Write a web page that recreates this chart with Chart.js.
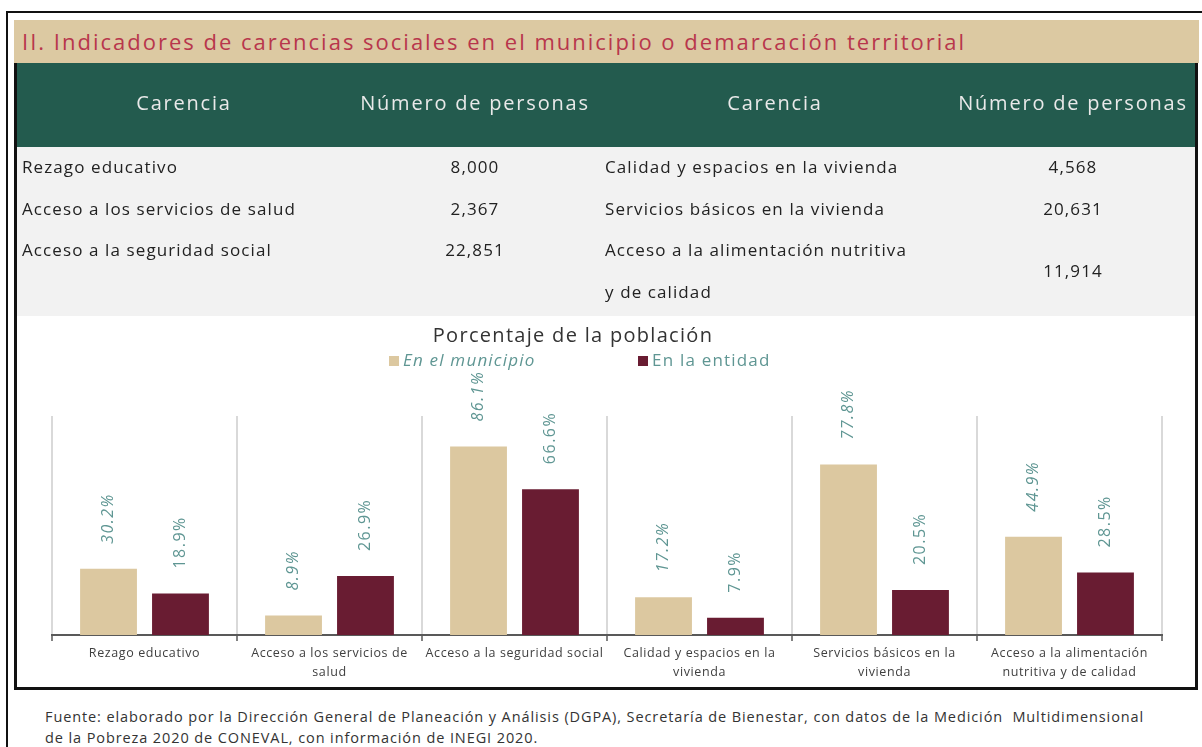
<!DOCTYPE html>
<html lang="es">
<head>
<meta charset="utf-8">
<title>Indicadores de carencias sociales</title>
<script src="https://cdn.jsdelivr.net/npm/chart.js@4.4.1/dist/chart.umd.min.js"></script>
<style>
  html, body { margin: 0; padding: 0; background: #fff; }
  body { width: 1202px; height: 747px; position: relative; overflow: hidden; font-family: "Open Sans", sans-serif; }
  .abs { position: absolute; white-space: nowrap; }
  #outer { left: 6px; top: 11px; width: 1200px; height: 740px; border-top: 2px solid #111; border-left: 2px solid #111; }
  #titlebar { left: 14px; top: 20px; width: 1185px; height: 43px; background: #dcc9a2; }
  #titlebar span { position: absolute; left: 8px; top: 0; line-height: 43px; font-size: 22px; letter-spacing: 2px; color: #b8364c; }
  #frame { left: 14px; top: 63px; width: 1178px; height: 624px; border-left: 3px solid #111; border-right: 3px solid #111; border-bottom: 3px solid #111; }
  #head { left: 17px; top: 63px; width: 1178px; height: 84px; background: #235b4e; }
  #body { left: 17px; top: 147px; width: 1178px; height: 169px; background: #f2f2f2; }
  .th { height: 84px; line-height: 80px; top: 63px; font-size: 20px; letter-spacing: 1.8px; color: #e9e9e9; text-align: center; }
  .td { font-size: 17px; letter-spacing: 1.1px; color: #222; height: 24px; line-height: 24px; }
  .num { text-align: center; width: 200px; }
  #chartbox { left: 17px; top: 316px; width: 1178px; height: 371px; }
  #ctitle { left: 17px; top: 321px; width: 1112px; text-align: center; font-size: 20px; letter-spacing: 1.3px; color: #333; line-height: 28px; }
  .leg { top: 349px; font-size: 17px; letter-spacing: 1.2px; color: #5f9693; line-height: 22px; }
  .leg i.box { display: inline-block; width: 10px; height: 10px; margin-right: 4px; vertical-align: 0px; }
  #foot { left: 45px; top: 706px; font-size: 14.5px; letter-spacing: 0.9px; color: #333; line-height: 21px; }
</style>
</head>
<body>
<div id="outer" class="abs"></div>
<div id="titlebar" class="abs"><span>II. Indicadores de carencias sociales en el municipio o demarcación territorial</span></div>
<div id="head" class="abs"></div>
<div id="body" class="abs"></div>
<div id="chartbox" class="abs"><canvas id="barChart" width="1178" height="371"></canvas></div>
<div id="frame" class="abs"></div>

<div class="abs th" style="left:17px;width:334px;">Carencia</div>
<div class="abs th" style="left:351px;width:248px;">Número de personas</div>
<div class="abs th" style="left:599px;width:352px;">Carencia</div>
<div class="abs th" style="left:951px;width:244px;">Número de personas</div>

<div id="rows"></div>

<div id="ctitle" class="abs">Porcentaje de la población</div>
<div class="abs leg" style="left:389px;"><i class="box" style="background:#dcc8a0"></i><em>En el municipio</em></div>
<div class="abs leg" style="left:638px;"><i class="box" style="background:#691c32"></i>En la entidad</div>

<div id="foot" class="abs">Fuente: elaborado por la Dirección General de Planeación y Análisis (DGPA), Secretaría de Bienestar, con datos de la Medición&nbsp; Multidimensional<br>de la Pobreza 2020 de CONEVAL, con información de INEGI 2020.</div>

<script>
// table of people per carencia
const leftRows = ['Rezago educativo', 'Acceso a los servicios de salud', 'Acceso a la seguridad social'];
const leftCounts = ['8,000', '2,367', '22,851'];
const rightRows = ['Calidad y espacios en la vivienda', 'Servicios básicos en la vivienda', 'Acceso a la alimentación nutritiva', 'y de calidad'];
const rightCounts = ['4,568', '20,631', '11,914'];

// chart data (percent of population)
const categories = [
  'Rezago educativo',
  ['Acceso a los servicios de', 'salud'],
  'Acceso a la seguridad social',
  ['Calidad y espacios en la', 'vivienda'],
  ['Servicios básicos en la', 'vivienda'],
  ['Acceso a la alimentación', 'nutritiva y de calidad']
];
const municipio = [30.2, 8.9, 86.1, 17.2, 77.8, 44.9];
const entidad = [18.9, 26.9, 66.6, 7.9, 20.5, 28.5];

const rowY = [167, 209, 250, 292];
const rows = document.getElementById('rows');
const cell = (text, left, cy, cls) => {
  const d = document.createElement('div');
  d.className = 'abs td' + (cls ? ' ' + cls : '');
  d.style.left = left + 'px';
  d.style.top = (cy - 12) + 'px';
  d.textContent = text;
  rows.appendChild(d);
};
leftRows.forEach((t, i) => cell(t, 22, rowY[i]));
leftCounts.forEach((t, i) => cell(t, 375, rowY[i], 'num'));
rightRows.forEach((t, i) => cell(t, 605, rowY[i]));
cell(rightCounts[0], 973, rowY[0], 'num');
cell(rightCounts[1], 973, rowY[1], 'num');
cell(rightCounts[2], 973, (rowY[2] + rowY[3]) / 2, 'num');

const labelColor = '#5f9693';

// a bit of tracking on the axis labels, like the original
const spacing = {
  id: 'spacing',
  beforeInit(chart) { chart.ctx.letterSpacing = '0.6px'; },
  beforeDraw(chart) { chart.ctx.letterSpacing = '0.6px'; }
};

const valueLabels = {
  id: 'valueLabels',
  afterDatasetsDraw(chart) {
    const ctx = chart.ctx;
    chart.data.datasets.forEach((ds, i) => {
      chart.getDatasetMeta(i).data.forEach((bar, j) => {
        ctx.save();
        ctx.translate(bar.x, bar.y - 25);
        ctx.rotate(-Math.PI / 2);
        ctx.font = (i === 0 ? 'italic ' : '') + '16px "Open Sans"';
        ctx.letterSpacing = '1.5px';
        ctx.fillStyle = labelColor;
        ctx.textAlign = 'left';
        ctx.textBaseline = 'middle';
        ctx.fillText(ds.data[j].toFixed(1) + '%', 0, 0);
        ctx.restore();
      });
    });
  }
};

new Chart(document.getElementById('barChart'), {
  type: 'bar',
  data: {
    labels: categories,
    datasets: [
      { label: 'En el municipio', data: municipio, backgroundColor: '#dcc8a0' },
      { label: 'En la entidad', data: entidad, backgroundColor: '#691c32' }
    ]
  },
  options: {
    responsive: false,
    animation: false,
    categoryPercentage: 0.778,
    barPercentage: 0.79,
    layout: { padding: { top: 100, left: 35, right: 33, bottom: 0 } },
    plugins: { legend: { display: false }, tooltip: { enabled: false } },
    scales: {
      y: { display: false, min: 0, max: 100 },
      x: {
        afterFit(scale) { scale.height = 52; },
        grid: { offset: true, color: '#d9d9d9', lineWidth: 2, tickColor: '#595959', tickWidth: 1.5, tickLength: 6 },
        border: { color: '#595959', width: 2 },
        ticks: { color: '#404040', padding: 3, maxRotation: 0, autoSkip: false, font: { family: 'Open Sans', size: 12.5, lineHeight: 1.5 } }
      }
    }
  },
  plugins: [spacing, valueLabels]
});
</script>
</body>
</html>
